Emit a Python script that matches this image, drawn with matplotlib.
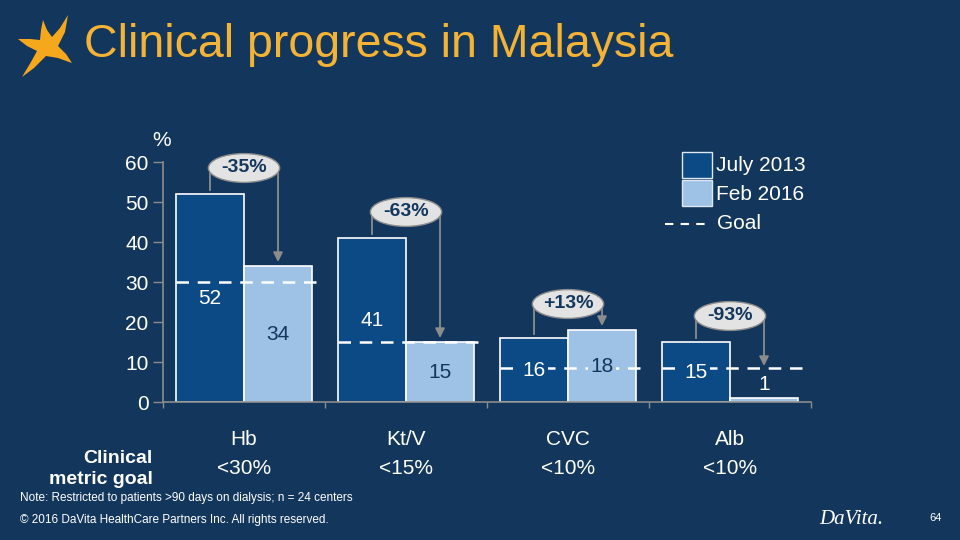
import matplotlib
matplotlib.use("Agg")
import matplotlib.pyplot as plt
from matplotlib.patches import Ellipse, Rectangle, Polygon
from matplotlib.lines import Line2D

# ---------------------------------------------------
# Datos
# ---------------------------------------------------
categories = ["Hb", "Kt/V", "CVC", "Alb"]
goal_labels = ["<30%", "<15%", "<10%", "<10%"]
july_2013 = [52, 41, 16, 15]
feb_2016 = [34, 15, 18, 1]
goal_line = [30, 15, 8.5, 8.5]
change_labels = ["-35%", "-63%", "+13%", "-93%"]

# ---------------------------------------------------
# Estilo
# ---------------------------------------------------
bg = "#13375c"
dark = "#0b4a84"
light = "#9ec2e6"
navy_txt = "#13375c"
gray = "#8c8c8c"
orange = "#f5b335"
plt.rcParams["font.family"] = ["Liberation Sans", "DejaVu Sans"]

fig = plt.figure(figsize=(9.6, 5.4), dpi=100, facecolor=bg)


def px(x, y):
    # pixel -> fracción de figura
    return x / 960, 1 - y / 540


ax = fig.add_axes([163 / 960, 1 - 402 / 540, 648 / 960, 240 / 540])
ax.set_facecolor(bg)

w = 0.42
xs = range(len(categories))
ax.bar([i - w / 2 for i in xs], july_2013, width=w, color=dark, edgecolor="white", linewidth=1.2, zorder=2)
ax.bar([i + w / 2 for i in xs], feb_2016, width=w, color=light, edgecolor="white", linewidth=1.2, zorder=2)

# líneas de meta
for i in xs:
    ax.plot([i - w, i + w + 0.03], [goal_line[i], goal_line[i]], color="white",
            lw=1.8, dashes=(5, 3.5), zorder=3)

# etiquetas de valores (con fondo para cortar la línea de meta)
for i in xs:
    ax.text(i - w / 2, max(july_2013[i] / 2, 4.5), str(july_2013[i]), ha="center", va="center",
            color="white", fontsize=15, zorder=4,
            bbox=dict(boxstyle="square,pad=0.12", facecolor=dark, edgecolor="none"))
    v = feb_2016[i]
    inside = v > 6
    ax.text(i + w / 2, max(v / 2, 4.5), str(v), ha="center", va="center",
            color=navy_txt if inside else "white", fontsize=15, zorder=4,
            bbox=dict(boxstyle="square,pad=0.12", facecolor=light if inside else bg, edgecolor="none"))

# flechas y óvalos de cambio
for i in xs:
    top = max(july_2013[i], feb_2016[i]) + 6.5
    x0, x1 = i - w / 2, i + w / 2
    ax.plot([x0, x0], [july_2013[i] + 1, top], color=gray, lw=1.3, zorder=3, clip_on=False)
    ax.annotate("", xy=(x1, max(feb_2016[i] + 1, 9)), xytext=(x1, top),
                arrowprops=dict(arrowstyle="-|>", color=gray, lw=1.3, mutation_scale=14,
                                shrinkA=0, shrinkB=0), zorder=3, annotation_clip=False)
    ax.add_patch(Ellipse((i, top), width=w + 0.02, height=7.2, facecolor="#e3e3e3",
                         edgecolor=gray, lw=1, zorder=5, clip_on=False))
    ax.text(i, top, change_labels[i], ha="center", va="center", fontsize=14,
            fontweight="bold", color=navy_txt, zorder=6)

ax.set_xlim(-0.5, 3.5)
ax.set_ylim(0, 60)
ax.set_yticks(range(0, 61, 10))
ax.tick_params(axis="y", colors=gray, labelcolor="white", labelsize=15, length=7, width=1)
ax.set_xticks([])
ax.set_xticks([-0.5, 0.5, 1.5, 2.5, 3.5], minor=True)
ax.tick_params(axis="x", which="minor", colors=gray, length=4, width=1)
for s in ["top", "right"]:
    ax.spines[s].set_visible(False)
for s in ["left", "bottom"]:
    ax.spines[s].set_color(gray)
    ax.spines[s].set_linewidth(1.2)

# etiquetas de categoría y metas
for i in xs:
    ax.text(i, -0.158, categories[i], transform=ax.get_xaxis_transform(), ha="center",
            va="center", color="white", fontsize=15)
    ax.text(i, -0.275, goal_labels[i], transform=ax.get_xaxis_transform(), ha="center",
            va="center", color="white", fontsize=15)

fig.text(*px(153, 469), "Clinical\nmetric goal", ha="right", va="center", color="white",
         fontsize=14, fontweight="bold", linespacing=1.35)
fig.text(*px(162, 140), "%", ha="center", va="center", color="white", fontsize=15)

# leyenda
for y0, col, lab in [(152, dark, "July 2013"), (180, light, "Feb 2016")]:
    fig.add_artist(Rectangle(px(682, y0 + 26), 30 / 960, 26 / 540, transform=fig.transFigure,
                             facecolor=col, edgecolor="#dfe8f2", lw=1))
    fig.text(*px(716, y0 + 14), lab, ha="left", va="center", color="white", fontsize=15)
fig.add_artist(Line2D([665 / 960, 708 / 960], [1 - 224 / 540] * 2, transform=fig.transFigure,
                      color="white", lw=1.5, dashes=(4, 3.5)))
fig.text(*px(717, 224), "Goal", ha="left", va="center", color="white", fontsize=15)

# título y estrella
star_px = [(43, 20), (47, 30), (52, 37), (60, 28), (68, 15), (65, 32), (58, 46), (66, 54),
           (72, 63), (58, 58), (46, 56), (34, 68), (22, 77), (31, 62), (37, 51), (27, 46),
           (18, 39), (30, 39), (40, 40), (41, 30)]
fig.add_artist(Polygon([px(x, y) for x, y in star_px], closed=True, transform=fig.transFigure,
                       facecolor="#f6a81c", edgecolor="none"))
fig.text(*px(84, 45), "Clinical progress in Malaysia", ha="left", va="center", color=orange,
         fontsize=33.5)

# notas al pie
fig.text(*px(20, 498), "Note: Restricted to patients >90 days on dialysis; n = 24 centers",
         ha="left", va="center", color="white", fontsize=8.5)
fig.text(*px(20, 520), "\u00a9 2016 DaVita HealthCare Partners Inc. All rights reserved.",
         ha="left", va="center", color="white", fontsize=8.5)
fig.text(*px(851, 520), "DaVita.", ha="center", va="center", color="white", fontsize=15,
         family="Liberation Serif", style="italic")
fig.text(*px(936, 518), "64", ha="center", va="center", color="white", fontsize=8)

plt.savefig("out.png", facecolor=bg)
plt.close()
